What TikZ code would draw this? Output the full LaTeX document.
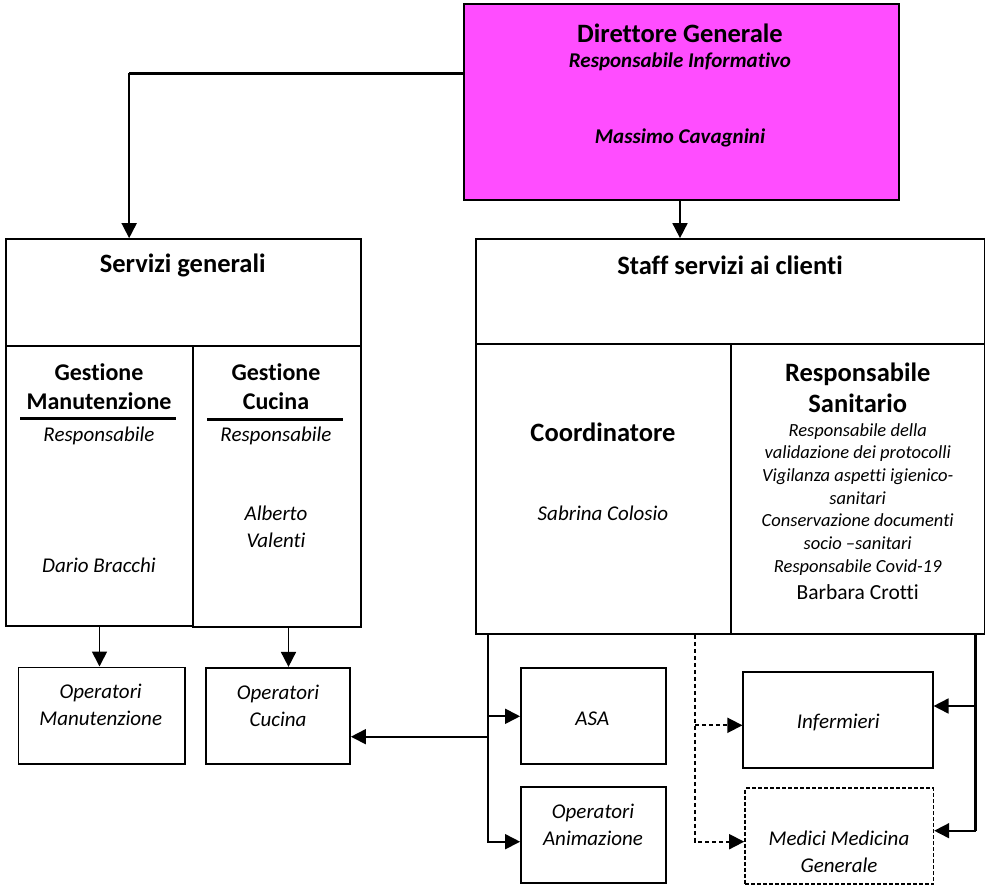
\documentclass[tikz,border=0pt]{standalone}
\usepackage{fontspec}
\setmainfont{Carlito}[Ligatures=CommonOff]
\usepackage{tikz}
\usetikzlibrary{arrows.meta,calc}
\definecolor{dgpink}{RGB}{255,77,255}
\newcommand{\ftitle}{\fontsize{26.5}{31}\selectfont\bfseries}
\newcommand{\fsub}{\fontsize{24}{29}\selectfont\bfseries}
\newcommand{\fname}{\fontsize{21}{27}\selectfont\itshape}
\newcommand{\fsmall}{\fontsize{18.5}{22.7}\selectfont\itshape}
\newcommand{\fboss}{\fontsize{21}{26}\selectfont\bfseries\itshape}

\begin{document}
\begin{tikzpicture}[x=1pt,y=1pt,
		box/.style={draw,line width=1.7pt,inner sep=0pt},
		txt/.style={inner sep=0pt,align=center},
		arr/.style={line width=1.7pt,-{Triangle[length=15pt,width=15pt]}},
		darr/.style={arr,dash pattern=on 4pt off 3pt},
		bold/.style={line width=3.2pt}]
	\useasboundingbox (0,0) rectangle (985,-888);
	\node[box,fill=dgpink,minimum width=435,minimum height=196] (dg) at (681.5,-102) {};
	\node[box,minimum width=355,minimum height=107] (sg) at (183.5,-292.5) {};
	\node[box,minimum width=187,minimum height=280] (gm) at (99.5,-486) {};
	\node[box,minimum width=168,minimum height=281] (gc) at (277,-486.5) {};
	\node[box,minimum width=509,minimum height=105] (ss) at (730.5,-291.5) {};
	\node[box,minimum width=255,minimum height=290] (co) at (603.5,-489) {};
	\node[box,minimum width=254,minimum height=290] (rs) at (858,-489) {};
	\node[box,minimum width=166.7,minimum height=96.7] (om) at (101.7,-715.7) {};
	\node[box,minimum width=144.3,minimum height=96.3] (oc) at (277.9,-715.9) {};
	\node[box,minimum width=144.7,minimum height=96] (asa) at (593.3,-716.3) {};
	\node[box,minimum width=144.7,minimum height=96.6] (oa) at (593.3,-835) {};
	\node[box,minimum width=189.4,minimum height=96] (inf) at (838,-720.3) {};
	\node[box,dash pattern=on 4pt off 2pt,minimum width=188.3,minimum height=96] (mmg) at (839.2,-836.3) {};

	\node[txt,font=\ftitle] (dgt) at (680,-33.3) {Direttore Generale};
	\node[txt,font=\fboss] (dgr) at (680,-61.7) {Responsabile Informativo};
	\node[txt,font=\fboss] (dgn) at (680,-138.3) {Massimo Cavagnini};
	\node[txt,font=\ftitle] (sgt) at (182.7,-265.7) {Servizi generali};
	\node[txt,font=\fsub] (gmt) at (99,-386.2) {Gestione\\Manutenzione};
	\node[txt,font=\fname] (gmr) at (99,-435.7) {Responsabile};
	\node[txt,font=\fname] (gmn) at (99,-565) {Dario Bracchi};
	\node[txt,font=\fsub] (gct) at (276,-386.5) {Gestione\\Cucina};
	\node[txt,font=\fname] (gcr) at (276,-435.7) {Responsabile};
	\node[txt,font=\fname] (gcn) at (276,-526.5) {Alberto\\Valenti};
	\node[txt,font=\ftitle] (sst) at (730,-265.7) {Staff servizi ai clienti};
	\node[txt,font=\ftitle] (cot) at (603,-432.7) {Coordinatore};
	\node[txt,font=\fname] (con) at (603,-513) {Sabrina Colosio};
	\node[txt,font=\ftitle] (rst) at (857.7,-387.5) {Responsabile\\Sanitario};
	\node[txt,font=\fsmall] (rsd) at (857.7,-499.3) {Responsabile della\\validazione dei protocolli\\Vigilanza aspetti igienico-\\sanitari\\Conservazione documenti\\socio --sanitari\\Responsabile Covid-19};
	\node[txt,font=\fontsize{21.5}{26}\selectfont] (rsn) at (857.7,-592) {Barbara Crotti};
	\node[txt,font=\fname] (omt) at (100.7,-705) {Operatori\\Manutenzione};
	\node[txt,font=\fname] (oct) at (278,-706) {Operatori\\Cucina};
	\node[txt,font=\fname] (asat) at (592.3,-718.3) {ASA};
	\node[txt,font=\fname] (oat) at (593,-824.5) {Operatori\\Animazione};
	\node[txt,font=\fname] (inft) at (838.3,-722.7) {Infermieri};
	\node[txt,font=\fname] (mmgt) at (839,-851.7) {Medici Medicina\\Generale};

	\draw[bold] ($(gm.north west)+(15,-73)$) -- ++(156,0);
	\draw[bold] ($(gc.north west)+(15,-74)$) -- ++(136,0);

	\coordinate (dgl) at ($(dg.north west)+(0,-70)$);
	\coordinate (sgin) at ($(sg.north west)+(124,0)$);
	\draw[bold] (dgl) -- (dgl -| sgin);
	\draw[arr] (dgl -| sgin) -- (sgin);
	\draw[arr] (dg.south -| 680,0) -- (ss.north -| 680,0);
	\draw[arr] (gm.south) -- (gm.south |- om.north);
	\coordinate (gcd) at ([xshift=11.5pt]gc.south);
	\draw[arr] (gcd) -- (gcd |- oc.north);

	\coordinate (t1) at ([xshift=13pt]co.south west);
	\coordinate (oaw) at ([yshift=-6.7pt]oa.west);
	\coordinate (oce) at ([yshift=-20.8pt]oc.east);
	\draw[arr] (t1) |- (oaw);
	\draw[arr] (t1 |- asa.west) -- (asa.west);
	\draw[arr] (t1 |- oce) -- (oce);

	\coordinate (t2) at ([xshift=-37pt]co.south east);
	\coordinate (infw) at ([yshift=-5pt]inf.west);
	\coordinate (mmgw) at ([yshift=-5.4pt]mmg.west);
	\draw[darr] (t2) |- (mmgw);
	\draw[darr] (t2 |- infw) -- (infw);

	\coordinate (t3) at ([xshift=-10pt]rs.south east);
	\coordinate (infe) at ([yshift=14.3pt]inf.east);
	\coordinate (mmge) at ([yshift=5.6pt]mmg.east);
	\draw[bold] (t3) -- (t3 |- mmge);
	\draw[arr] (t3 |- mmge) -- (mmge);
	\draw[arr] (t3 |- infe) -- (infe);
\end{tikzpicture}
\end{document}
